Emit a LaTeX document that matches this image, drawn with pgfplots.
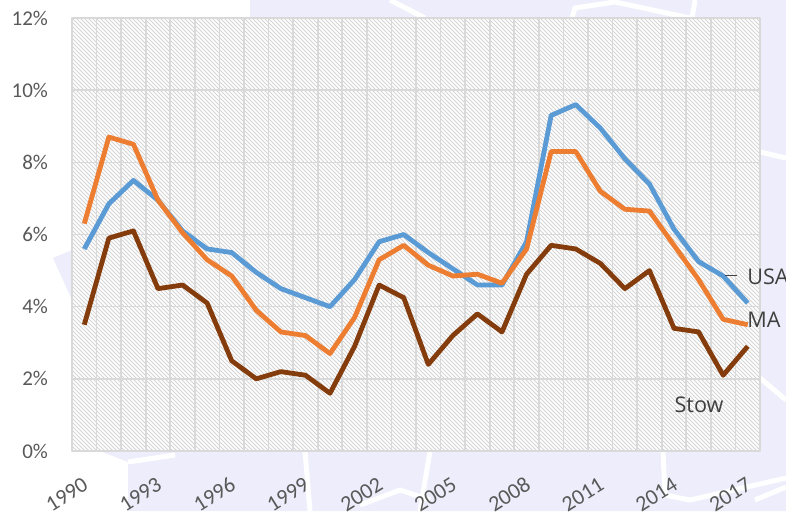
\documentclass[border=0pt]{standalone}
\usepackage{pgfplots}
\pgfplotsset{compat=1.18}
\usepackage{pgfplotstable}
\usepackage{fontspec}
\setmainfont{Carlito}
\newfontfamily\labelfont{Open Sans}
\definecolor{bgl}{RGB}{237,237,251}
\definecolor{usac}{RGB}{91,155,213}
\definecolor{mac}{RGB}{237,125,49}
\definecolor{stowc}{RGB}{132,60,12}
\definecolor{gridc}{RGB}{217,217,217}
\definecolor{hatchc}{RGB}{212,212,212}
\definecolor{tickc}{RGB}{89,89,89}
\definecolor{labc}{RGB}{64,64,64}

\pgfplotstableread{
x usa ma stow
0 5.6 6.3 3.5
1 6.85 8.7 5.9
2 7.5 8.5 6.1
3 6.95 6.95 4.5
4 6.1 6.05 4.6
5 5.6 5.3 4.1
6 5.5 4.85 2.5
7 4.95 3.9 2.0
8 4.5 3.3 2.2
9 4.25 3.2 2.1
10 4.0 2.7 1.6
11 4.75 3.7 2.9
12 5.8 5.3 4.6
13 6.0 5.7 4.25
14 5.5 5.15 2.4
15 5.05 4.85 3.2
16 4.6 4.9 3.8
17 4.6 4.65 3.3
18 5.8 5.6 4.9
19 9.3 8.3 5.7
20 9.6 8.3 5.6
21 8.95 7.2 5.2
22 8.1 6.7 4.5
23 7.4 6.65 5.0
24 6.15 5.7 3.4
25 5.25 4.75 3.3
26 4.85 3.65 2.1
27 4.1 3.5 2.9
}\data

\begin{document}
\begin{tikzpicture}
% watermark-like background (pixel coordinates)
\begin{scope}[x=0.5pt,y=-0.5pt,shift={(-36pt,225.5pt)}]
\fill[bgl] (250,0) -- (786,0) -- (786,511) -- (128,511) -- (128,462) -- (100,451) -- (250,18) -- cycle;
\fill[bgl] (53,258) -- (72,250) -- (72,300) -- cycle;
\begin{scope}[white,line width=2.5pt]
\draw (390,0) -- (425,18);
\draw (572,18) -- (575,8) -- (615,2) -- (690,18);
\draw (695,0) -- (692,18);
\draw (760,152) -- (786,158);
\draw (760,378) -- (786,400);
\draw (755,500) -- (786,487);
\draw (305,451) -- (310,511);
\draw (430,451) -- (420,511);
\draw (663,451) -- (665,495) -- (690,500) -- (786,478);
\draw (128,462) -- (175,455);
\draw (360,505) -- (400,490) -- (430,500);
\end{scope}
\end{scope}
% plot area: white with light diagonal hatch
\fill[white] (0,0) rectangle (344pt,216.5pt);
\begin{scope}
\clip (0,0) rectangle (344pt,216.5pt);
\foreach \i in {-109,...,173}{
  \draw[hatchc,line width=0.4pt] (\i*2pt,216.5pt) -- ++(216.5pt,-216.5pt);
}
\end{scope}
\begin{axis}[
  scale only axis, width=344pt, height=216.5pt,
  xmin=-0.5, xmax=27.5, ymin=0, ymax=12,
  clip=false,
  axis line style={gridc,line width=0.8pt},
  xtick={0,3,...,27},
  xticklabels={1990,1993,1996,1999,2002,2005,2008,2011,2014,2017},
  minor xtick={-0.5,0.5,...,27.5},
  xminorgrids, ymajorgrids,
  minor grid style={gridc,line width=0.8pt},
  major grid style={gridc,line width=0.8pt},
  major tick length=0pt, minor tick length=0pt,
  ytick={0,2,...,12},
  yticklabels={0\%,2\%,4\%,6\%,8\%,10\%,12\%},
  ticklabel style={font=\fontsize{10.5}{12}\selectfont,text=tickc},
  yticklabel style={xshift=-8.5pt},
  xticklabel style={xshift=-1pt,yshift=-11.7pt,rotate=32,anchor=north east,inner sep=0.5pt,font=\fontsize{11}{12}\selectfont},
  line join=round,
]
\addplot[usac,line width=2.4pt] table[x=x,y=usa] {\data};
\addplot[mac,line width=2.4pt] table[x=x,y=ma] {\data};
\addplot[stowc,line width=2.4pt] table[x=x,y=stow] {\data};
\draw[labc,line width=0.8pt] (axis cs:26.08,4.86) -- (axis cs:26.57,4.86);
\node[text=labc,anchor=base west,inner sep=0pt,font=\labelfont\fontsize{10.8}{12}\selectfont] at (axis cs:26.97,4.61) {USA};
\node[text=labc,anchor=base west,inner sep=0pt,font=\labelfont\fontsize{10.8}{12}\selectfont] at (axis cs:26.97,3.41) {MA};
\node[text=labc,anchor=base,inner sep=0pt,font=\labelfont\fontsize{10.8}{12}\selectfont] at (axis cs:25.02,1.08) {Stow};
\end{axis}
\pgfresetboundingbox
\path (-36pt,-30pt) rectangle (357pt,225.5pt);
\end{tikzpicture}
\end{document}
